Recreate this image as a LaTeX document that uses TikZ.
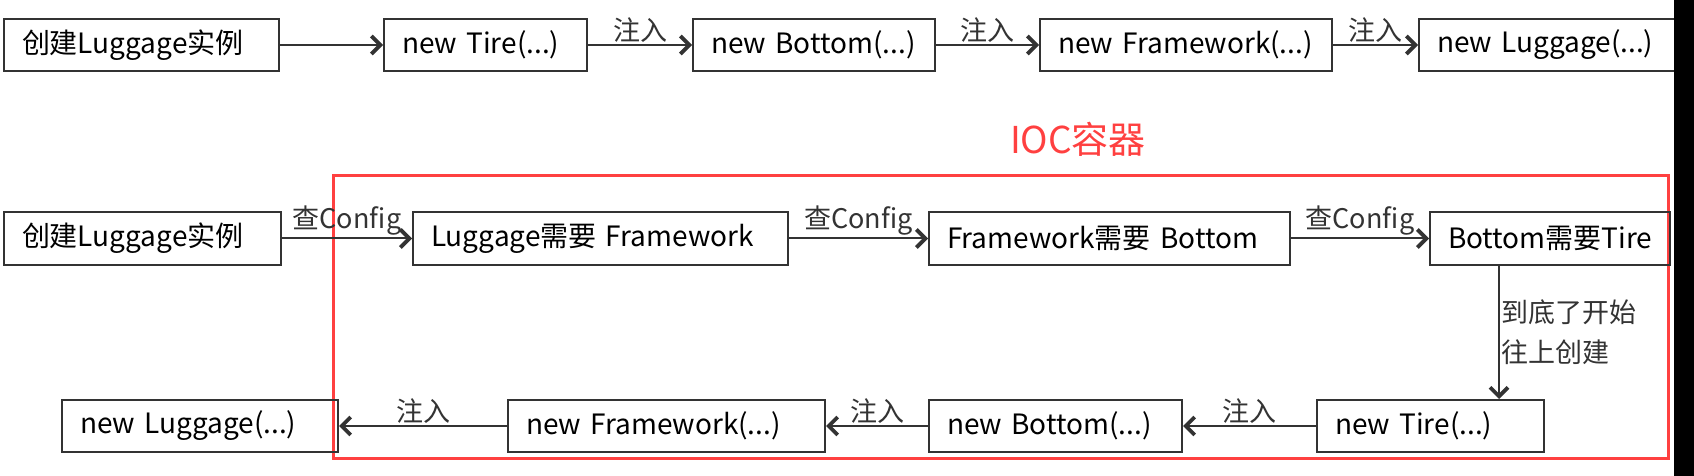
\documentclass[tikz,border=0pt]{standalone}
\usepackage{fontspec}
\setmainfont{Noto Sans CJK SC}
\usetikzlibrary{arrows.meta,positioning}
\definecolor{iocred}{HTML}{FF4040}
\definecolor{boxline}{HTML}{333333}

\begin{document}
\begin{tikzpicture}[x=0.5pt, y=-0.5pt,
  obj/.style={draw=boxline, line width=1pt, minimum height=26pt, inner xsep=9pt, align=left, font=\fontsize{14pt}{17pt}\selectfont},
  lbl/.style={inner sep=1pt, font=\fontsize{13.5pt}{20pt}\selectfont},
  arr/.style={-{Straight Barb[length=4.5pt,width=9pt,line width=1.9pt]}, line width=1pt, boxline}
]
  \useasboundingbox (0,0) rectangle (1694,476);

  % direct creation
  \node[obj, text width=119.5pt, anchor=west] (a1) at (3,45) {创建Luggage实例};
  \node[obj, text width=83.5pt, right=51.5pt of a1] (a2) {new Tire(...)};
  \node[obj, text width=103pt, right=52pt of a2] (a3) {new Bottom(...)};
  \node[obj, text width=128pt, right=51.5pt of a3] (a4) {new Framework(...)};
  \node[obj, text width=111.5pt, right=42.5pt of a4] (a5) {new Luggage(...)};
  \draw[arr] (a1) -- (a2);
  \draw[arr] (a2) -- node[lbl, above] {注入} (a3);
  \draw[arr] (a3) -- node[lbl, above] {注入} (a4);
  \draw[arr] (a4) -- node[lbl, above] {注入} (a5);

  % IOC container
  \draw[iocred, line width=1.5pt] (333,176) rectangle (1668,458);
  \node[text=iocred, font=\fontsize{18.5pt}{22pt}\selectfont] (ioc) at (1078,139) {IOC容器};

  \node[obj, text width=120.5pt, anchor=west] (b1) at (3,238.5) {创建Luggage实例};
  \node[obj, text width=169.5pt, right=65pt of b1] (b2) {Luggage需要 Framework};
  \node[obj, text width=162.5pt, right=69.5pt of b2] (b3) {Framework需要 Bottom};
  \node[obj, text width=102pt, right=69pt of b3] (b4) {Bottom需要Tire};
  \draw[arr] (b1) -- node[lbl, above] {查Config} (b2);
  \draw[arr] (b2) -- node[lbl, above] {查Config} (b3);
  \draw[arr] (b3) -- node[lbl, above] {查Config} (b4);

  \node[obj, text width=120pt, anchor=west] (c1) at (61,426) {new Luggage(...)};
  \node[obj, text width=140.5pt, right=84pt of c1] (c2) {new Framework(...)};
  \node[obj, text width=108.5pt, right=51pt of c2] (c3) {new Bottom(...)};
  \node[obj, text width=95.5pt, right=66.5pt of c3] (c4) {new Tire(...)};
  \draw[arr] ([xshift=-25.5pt]b4.south) -- ([xshift=-25.5pt]b4.south |- c4.north)
    node[lbl, midway, right, inner xsep=0.5pt, align=left] {到底了开始\\往上创建};
  \draw[arr] (c4) -- node[lbl, above] {注入} (c3);
  \draw[arr] (c3) -- node[lbl, above] {注入} (c2);
  \draw[arr] (c2) -- node[lbl, above] {注入} (c1);

  \fill[black] (1674,0) rectangle (1694,476);
\end{tikzpicture}
\end{document}
